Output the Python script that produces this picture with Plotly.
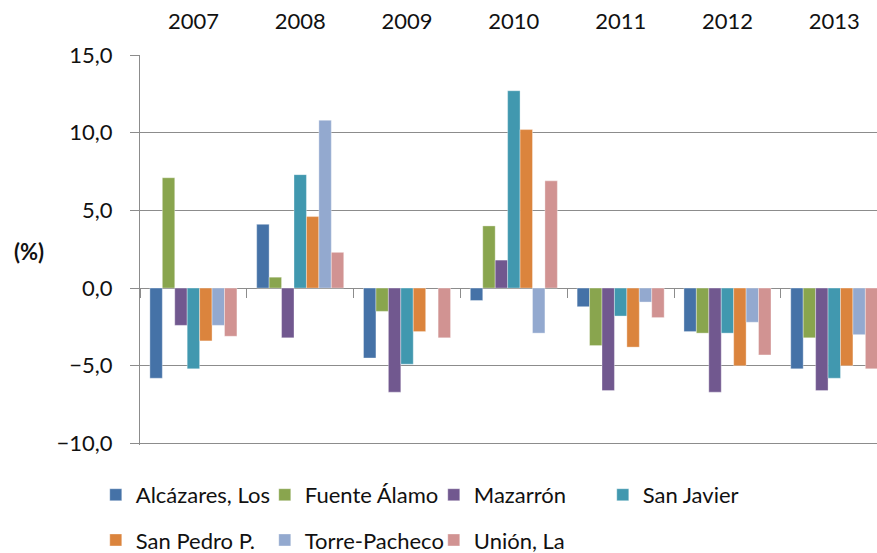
import plotly.graph_objects as go

years = ["2007", "2008", "2009", "2010", "2011", "2012", "2013"]

alcazares = [-5.8, 4.1, -4.5, -0.8, -1.2, -2.8, -5.2]
fuente_alamo = [7.1, 0.7, -1.5, 4.0, -3.7, -2.9, -3.2]
mazarron = [-2.4, -3.2, -6.7, 1.8, -6.6, -6.7, -6.6]
san_javier = [-5.2, 7.3, -4.9, 12.7, -1.8, -2.9, -5.8]
san_pedro = [-3.4, 4.6, -2.8, 10.2, -3.8, -5.0, -5.0]
torre_pacheco = [-2.4, 10.8, None, -2.9, -0.9, -2.2, -3.0]
union_la = [-3.1, 2.3, -3.2, 6.9, -1.9, -4.3, -5.2]

series_names = ["Alcázares, Los", "Fuente Álamo", "Mazarrón", "San Javier",
                "San Pedro P.", "Torre-Pacheco", "Unión, La"]
series_values = [alcazares, fuente_alamo, mazarron, san_javier,
                 san_pedro, torre_pacheco, union_la]
colors = ["#4572A7", "#89A54E", "#71588F", "#4198AF",
          "#DB843D", "#93A9CF", "#D19392"]
legend_ids = ["legend", "legend", "legend", "legend",
              "legend2", "legend2", "legend2"]

FONT = "Lato"
GRID = "#8c8c8c"
TXT = "#111111"

yr = [-10.1, 15]
zero_pos = -yr[0] / (yr[1] - yr[0])

fig = go.Figure()
for name, vals, col, lg in zip(series_names, series_values, colors, legend_ids):
    fig.add_trace(go.Bar(
        x=years, y=vals, name=name, legend=lg,
        marker=dict(color=col, line=dict(color="rgba(255,255,255,0.35)", width=1)),
        hoverinfo="x+y+name",
    ))

# helper trace for category-boundary tick marks on the zero line
fig.add_trace(go.Scatter(x=years, y=[None] * len(years), xaxis="x2",
                         showlegend=False, hoverinfo="skip", mode="markers"))

xr = [-0.5, 6.4]
fig.update_layout(
    width=877, height=553,
    margin=dict(l=140, r=0, t=55, b=108, autoexpand=False),
    paper_bgcolor="white", plot_bgcolor="white",
    font=dict(family=FONT, size=22, color=TXT),
    separators=",.",
    barmode="group", bargap=0.185, bargroupgap=0,
    xaxis=dict(type="category", side="top", range=xr, showgrid=False,
               showline=False, ticks="", ticklabelstandoff=21, automargin=False,
               tickfont=dict(family=FONT, size=22, color=TXT)),
    xaxis2=dict(type="category", overlaying="x", anchor="free", position=zero_pos,
                side="bottom", range=xr, showgrid=False, showline=False,
                ticks="outside", tickson="boundaries", ticklen=9, automargin=False,
                tickcolor=GRID, tickwidth=1, showticklabels=False),
    yaxis=dict(range=yr, dtick=5, tick0=0, tickformat=".1f",
               showgrid=True, gridcolor=GRID, gridwidth=1, automargin=False,
               zeroline=False, showline=True, linecolor=GRID, linewidth=1,
               ticks="outside", ticklen=9, tickcolor=GRID,
               ticklabelstandoff=13,
               tickfont=dict(family=FONT, size=22, color=TXT)),
    legend=dict(orientation="h", x=-0.06, xanchor="left", y=-0.128,
                yanchor="middle", entrywidth=124, entrywidthmode="pixels",
                bgcolor="rgba(0,0,0,0)", font=dict(family=FONT, size=22, color=TXT),
                traceorder="normal"),
    legend2=dict(orientation="h", x=-0.06, xanchor="left", y=-0.244,
                 yanchor="middle", entrywidth=124, entrywidthmode="pixels",
                 bgcolor="rgba(0,0,0,0)", font=dict(family=FONT, size=22, color=TXT),
                 traceorder="normal"),
    annotations=[dict(text="<b>(%)</b>", xref="paper", yref="paper",
                      x=-0.15, y=0.495, xanchor="center", yanchor="middle",
                      showarrow=False, font=dict(family=FONT, size=22, color=TXT))],
)

fig.write_html("out.html", config={"displayModeBar": False},
               post_script="document.body.style.margin='0';document.body.style.padding='0';")
